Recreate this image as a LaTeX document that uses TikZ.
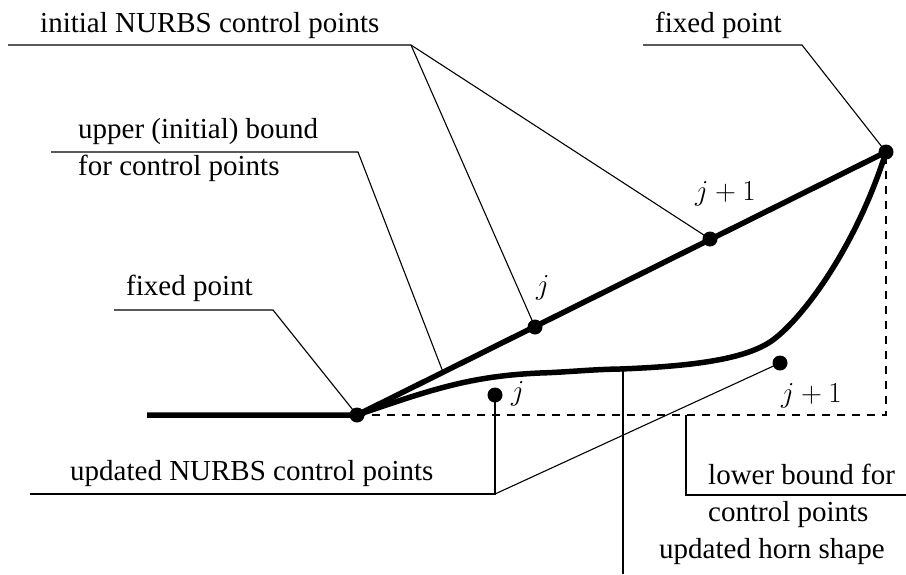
\RequirePackage{fix-cm}
\documentclass[tikz,border=0pt]{standalone}
\usepackage[no-math]{fontspec}
\setmainfont{Liberation Serif}
\begin{document}
\begin{tikzpicture}[x=1pt,y=-1pt,
  lbl/.style={font=\fontsize{29}{34}\selectfont, inner sep=0pt, anchor=base west},
  thickln/.style={line width=5.5pt, line join=round},
  dashln/.style={line width=2.8pt, dash pattern=on 8pt off 7pt},
  leader/.style={line width=1.1pt},
  dot/.style={circle, fill=black, inner sep=0pt, minimum size=15pt},
]
\useasboundingbox (0,0) rectangle (906,574);

% points
\coordinate (L0) at (147,415);
\coordinate (F1c) at (357,415);
\coordinate (F2c) at (886,152);
\coordinate (Corner) at (886,415);

% geometry
\draw[thickln] (L0) -- (F1c) -- (F2c);
\draw[dashln] (F1c) -- (Corner) -- (F2c);
\draw[thickln] (F1c) .. controls (430,390) and (470,376) .. (540,373)
  .. controls (570,372) and (590,369.5) .. (620,369)
  .. controls (700,366) and (745,358) .. (770,342)
  .. controls (800,322) and (855,250) .. (F2c);

\node[dot] (F1) at (F1c) {};
\node[dot] (F2) at (F2c) {};
\node[dot] (Cj) at (535,327) {};
\node[dot] (Cj1) at (710,239) {};
\node[dot] (Uj) at (495,395) {};
\node[dot] (Uj1) at (780,363) {};

% point labels
\node[lbl] (tCj) at (536,294) {$j$};
\node[lbl] (tCj1) at (695,200) {$j+1$};
\node[lbl] (tUj) at (511,400) {$j$};
\node[lbl] (tUj1) at (781,402) {$j+1$};

% text labels
\node[lbl] (tInit) at (40,32) {initial NURBS control points};
\node[lbl] (tFixR) at (655,32) {fixed point};
\node[lbl] (tUp1) at (78,138) {upper (initial) bound};
\node[lbl] (tUp2) at (78,175) {for control points};
\node[lbl] (tFixL) at (126,295) {fixed point};
\node[lbl] (tUpd) at (70,480) {updated NURBS control points};
\node[lbl] (tLow1) at (708,484) {lower bound for};
\node[lbl] (tLow2) at (708,521) {control points};
\node[lbl] (tHorn) at (659,558) {updated horn shape};

% leader coordinates
\coordinate (InitA) at (8,45);
\coordinate (InitB) at (411,45);
\coordinate (FixRA) at (643,45);
\coordinate (FixRB) at (802,45);
\coordinate (UpA) at (51,152);
\coordinate (UpB) at (358,152);
\coordinate (UpOn) at (443,372);
\coordinate (FixLA) at (114,310);
\coordinate (FixLB) at (273,310);
\coordinate (UpdA) at (30,494);
\coordinate (UpdB) at (495,494);
\coordinate (LowOn) at (686,415);
\coordinate (LowB) at (686,495);
\coordinate (LowA) at (906,495);
\coordinate (HornOn) at (623,369);
\coordinate (HornB) at (623,574);

% leaders
\draw[leader] (InitA) -- (InitB) -- (Cj1.center);
\draw[leader] (InitB) -- (Cj.center);
\draw[leader] (FixRA) -- (FixRB) -- (F2.center);
\draw[leader] (UpA) -- (UpB) -- (UpOn);
\draw[leader] (FixLA) -- (FixLB) -- (F1.center);
\draw[leader] (UpdA) -- (UpdB) -- (Uj.center);
\draw[leader] (UpdB) -- (Uj1.center);
\draw[leader] (LowOn) -- (LowB) -- (LowA);
\draw[leader] (HornOn) -- (HornB);
\end{tikzpicture}
\end{document}
